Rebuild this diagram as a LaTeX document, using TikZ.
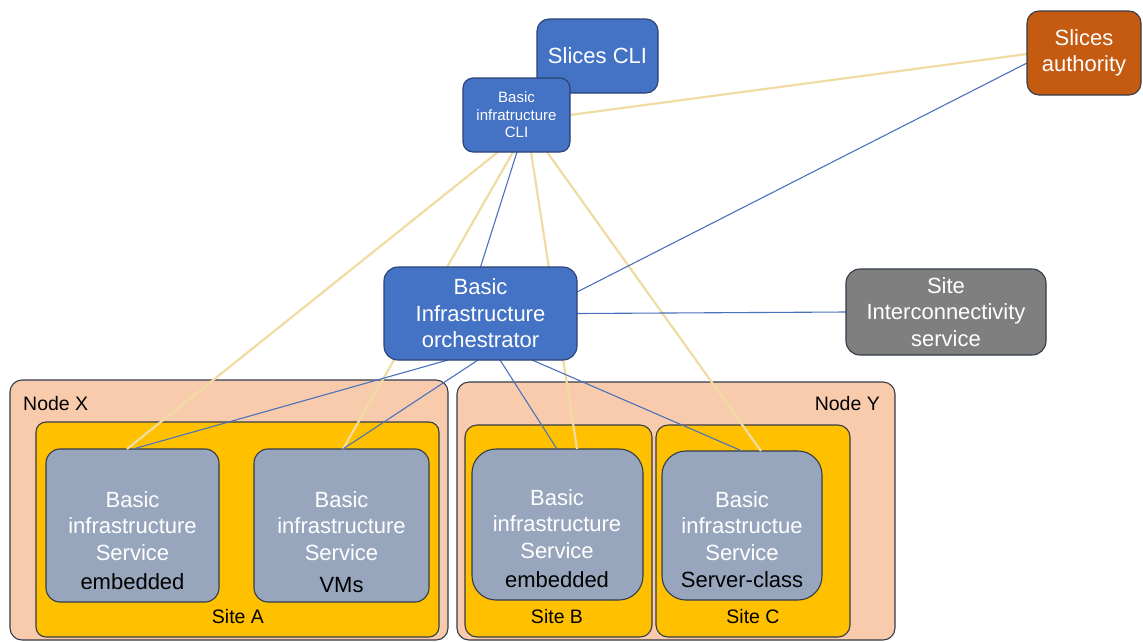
\documentclass[tikz,border=0pt]{standalone}
\usepackage{fontspec}
\setmainfont{Liberation Sans}
\usetikzlibrary{calc}
\definecolor{boxblue}{HTML}{4472C4}
\definecolor{bluedge}{HTML}{2A4272}
\definecolor{orng}{HTML}{C55A11}
\definecolor{gry}{HTML}{7F7F7F}
\definecolor{nodefill}{HTML}{F8CBAD}
\definecolor{sitefill}{HTML}{FFC000}
\definecolor{svcfill}{HTML}{97A6BD}
\definecolor{edgedark}{HTML}{333C4A}
\definecolor{beige}{HTML}{F0DBA3}
\definecolor{lnblue}{HTML}{4A72BC}
\newcommand\fbig{\fontsize{22}{26.5}\selectfont}
\newcommand\fmid{\fontsize{19.5}{22}\selectfont}
\newcommand\fsmall{\fontsize{15}{17.5}\selectfont}
\pgfdeclarelayer{bg}
\pgfdeclarelayer{lines}
\pgfsetlayers{bg,lines,main}
\begin{document}
\begin{tikzpicture}[x=1pt,y=-1pt,
  box/.style={draw=edgedark, line width=1.1pt, inner sep=0pt, outer sep=0pt, align=center},
  topbox/.style={box, draw=bluedge, fill=boxblue, text=white},
  container/.style={box, rounded corners=12pt},
  svc/.style={box, fill=svcfill, rounded corners=14pt},
  whitetxt/.style={text=white, align=center, font=\fbig, inner sep=0pt},
  blacktxt/.style={text=black, align=center, font=\fbig, inner sep=0pt},
  lbl/.style={text=black, font=\fmid, inner sep=0pt},
  beigeln/.style={draw=beige, line width=2.2pt},
  blueln/.style={draw=lnblue, line width=1.1pt}]
\useasboundingbox (0,0) rectangle (1143,641);

\begin{pgfonlayer}{bg}
  \node[container, fill=nodefill, minimum width=438pt, minimum height=260pt] (nodeX) at (229,510) {};
  \node[container, fill=nodefill, minimum width=438pt, minimum height=258pt] (nodeY) at (676,511) {};
  \node[container, fill=sitefill, rounded corners=10pt, minimum width=403pt, minimum height=215pt] (siteA) at (237.5,529.5) {};
  \node[container, fill=sitefill, rounded corners=12pt, minimum width=187pt, minimum height=212pt] (siteB) at (558.5,531) {};
  \node[container, fill=sitefill, rounded corners=12pt, minimum width=194pt, minimum height=212pt] (siteC) at (753,531) {};
  \node[svc, minimum width=173pt, minimum height=153pt] (svcA1) at (132.5,525.5) {};
  \node[svc, minimum width=175pt, minimum height=153pt] (svcA2) at (341.5,525.5) {};
  \node[svc, rounded corners=24pt, minimum width=171pt, minimum height=151pt] (svcB) at (557.5,524.5) {};
  \node[svc, rounded corners=24pt, minimum width=160pt, minimum height=149pt] (svcC) at (742,525.5) {};
  \node[lbl, anchor=west] (lblX) at (23,404) {Node X};
  \node[lbl, anchor=east] (lblY) at (880,404) {Node Y};
  \node[lbl] (lblA) at (238,617) {Site A};
  \node[lbl] (lblB) at (557,617) {Site B};
  \node[lbl] (lblC) at (753,617) {Site C};
  \node[whitetxt] (tA1) at (132.5,526) {Basic\\infrastructure\\Service};
  \node[blacktxt] (eA1) at (132.5,582) {embedded};
  \node[whitetxt] (tA2) at (341.5,526) {Basic\\infrastructure\\Service};
  \node[blacktxt] (eA2) at (341.5,585) {VMs};
  \node[whitetxt] (tB) at (557,524) {Basic\\infrastructure\\Service};
  \node[blacktxt] (eB) at (557,580) {embedded};
  \node[whitetxt] (tC) at (742,526) {Basic\\infrastructue\\Service};
  \node[blacktxt] (eC) at (742,580) {Server-class};
\end{pgfonlayer}

\node[topbox, rounded corners=12pt, minimum width=121pt, minimum height=74pt, font=\fbig] (slicescli) at (597.5,56) {Slices CLI};
\node[topbox, rounded corners=10pt, minimum width=107pt, minimum height=74pt, font=\fsmall] (cli) at (516.5,115) {Basic\\infratructure\\CLI};
\node[box, fill=orng, text=white, rounded corners=12pt, minimum width=114pt, minimum height=84pt, font=\fbig] (auth) at (1084,53) {Slices\\authority};
\node[topbox, rounded corners=14pt, minimum width=193pt, minimum height=93pt, font=\fbig] (orch) at (480.5,313.5) {Basic\\Infrastructure\\orchestrator};
\node[box, fill=gry, text=white, rounded corners=14pt, minimum width=200pt, minimum height=86pt, font=\fbig] (sis) at (946,312) {Site\\Interconnectivity\\service};

\begin{pgfonlayer}{lines}
  \draw[beigeln] ([xshift=-18.5pt]cli.south) -- ([xshift=-5.5pt]svcA1.north);
  \draw[beigeln] ([xshift=-3.5pt]cli.south) -- ([xshift=1.5pt]svcA2.north);
  \draw[beigeln] ([xshift=14.5pt]cli.south) -- ([xshift=19.5pt]svcB.north);
  \draw[beigeln] ([xshift=30.5pt]cli.south) -- ([xshift=19pt]svcC.north);
  \draw[beigeln] (cli.east) -- ([yshift=-1pt]auth.west);
  \draw[blueln] ([xshift=0.5pt]cli.south) -- (orch.north);
  \draw[blueln] ([yshift=21.5pt]orch.east) -- ([yshift=-10pt]auth.west);
  \draw[blueln] (orch.east) -- (sis.west);
  \draw[blueln] ([xshift=-32.5pt]orch.south) -- ([xshift=0.5pt]svcA1.north);
  \draw[blueln] ([xshift=-2.5pt]orch.south) -- ([xshift=1.5pt]svcA2.north);
  \draw[blueln] ([xshift=19.5pt]orch.south) -- ([xshift=-0.5pt]svcB.north);
  \draw[blueln] ([xshift=51.5pt]orch.south) -- (svcC.north);
\end{pgfonlayer}
\end{tikzpicture}
\end{document}
